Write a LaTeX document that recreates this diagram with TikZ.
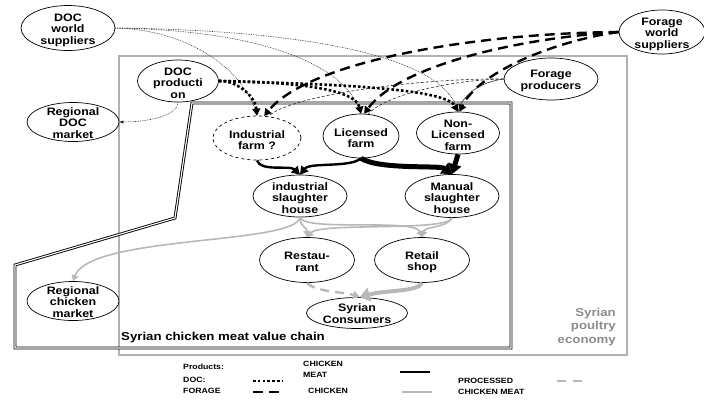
\documentclass[tikz,border=0pt]{standalone}
\usepackage{fontspec}
\setmainfont[FakeStretch=1.15, BoldFont={Liberation Sans Bold}]{Liberation Sans}
\newfontfamily\boldsans[FakeStretch=1.15]{Liberation Sans Bold}
\usetikzlibrary{shapes.geometric,arrows.meta}
\newcommand\nodetxt{\boldsans\fontsize{10.8}{11.5}\selectfont}
\newcommand\legtxt{\boldsans\fontsize{7.6}{11}\selectfont}
\begin{document}
\begin{tikzpicture}[x=1pt,y=-1pt,
  ell/.style={ellipse, draw, fill=white, inner sep=0pt, line width=0.7pt},
  txt/.style={align=center, font=\nodetxt, inner sep=0pt},
  leg/.style={align=left, font=\legtxt, inner sep=0pt, anchor=west},
  thindot/.style={draw=black!85, line width=0.55pt, dash pattern=on 0.8pt off 0.9pt},
  thinline/.style={draw=black!85, line width=0.55pt},
  thindash/.style={draw=black!85, line width=0.6pt, dash pattern=on 3pt off 2pt},
  docline/.style={line width=2.6pt, dash pattern=on 2.6pt off 2.2pt, -{Triangle[length=7pt,width=8pt]}},
  forline/.style={line width=2.4pt, dash pattern=on 10pt off 6pt, -{Triangle[length=7pt,width=8pt]}},
  meat/.style={line width=2.4pt, -{Triangle[length=8pt,width=9pt]}},
  meatthick/.style={line width=5pt, -{Triangle[length=10pt,width=13pt]}},
  chick/.style={draw=black!28, line width=1.6pt, -{Triangle[length=6pt,width=7pt]}},
  chickthick/.style={draw=black!28, line width=4pt, -{Triangle[length=10pt,width=14pt]}},
  proc/.style={draw=black!28, line width=2.4pt, dash pattern=on 9pt off 6pt, -{Triangle[length=7pt,width=8pt]}}
]
\useasboundingbox (0,0) rectangle (704,405);
% frames
\draw[draw=black!30, line width=2.5pt] (119,56) rectangle (627,355);
\draw[line width=0.9pt, double=white, double distance=1.1pt, line join=miter]
  (192,103) -- (511,103) -- (511,348) -- (15,348) -- (15,265) -- (175,218) -- cycle;
\node[font=\boldsans\fontsize{11.5}{13}\selectfont, anchor=west, inner sep=0pt] (vc) at (121,338) {Syrian chicken meat value chain};
\node[font=\boldsans\fontsize{11.5}{13.5}\selectfont, text=black!45, align=right, anchor=east, inner sep=0pt] (pe) at (616,327) {Syrian\\poultry\\economy};

% nodes
\node[ell, minimum width=94, minimum height=45] (dws) at (68,28) {};
\node[txt] (dwst) at ([yshift=-2]dws.center) {DOC\\world\\suppliers};
\node[ell, minimum width=86, minimum height=44] (fws) at (662,32) {};
\node[txt] (fwst) at ([yshift=-2]fws.center) {Forage\\world\\suppliers};
\node[ell, minimum width=81, minimum height=42] (dp) at (178,81) {};
\node[txt] (dpt) at ([yshift=-2]dp.center) {DOC\\producti\\on};
\node[ell, minimum width=92, minimum height=39] (rdm) at (73,122) {};
\node[txt] (rdmt) at ([yshift=-1]rdm.center) {Regional\\DOC\\market};
\node[ell, minimum width=94, minimum height=42] (fp) at (551,79) {};
\node[txt] (fpt) at ([yshift=-2]fp.center) {Forage\\producers};
\node[ell, dashed, minimum width=88, minimum height=44] (if) at (257,138) {};
\node[txt] (ift) at ([yshift=-2]if.center) {Industrial\\farm ?};
\node[ell, minimum width=76, minimum height=44] (lf) at (361,136) {};
\node[txt] (lft) at ([yshift=-2]lf.center) {Licensed\\farm};
\node[ell, minimum width=83, minimum height=42] (nlf) at (458,133) {};
\node[txt] (nlft) at ([yshift=-2]nlf.center) {Non-\\Licensed\\farm};
\node[ell, minimum width=94, minimum height=42] (is) at (300,196) {};
\node[txt] (ist) at ([yshift=-2]is.center) {industrial\\slaughter\\house};
\node[ell, minimum width=94, minimum height=43] (ms) at (452,196) {};
\node[txt] (mst) at ([yshift=-2]ms.center) {Manual\\slaughter\\house};
\node[ell, minimum width=95, minimum height=45] (rest) at (307,260) {};
\node[txt] (restt) at ([yshift=-2]rest.center) {Restau-\\rant};
\node[ell, minimum width=95, minimum height=45] (ret) at (422,260) {};
\node[txt] (rett) at ([yshift=-2]ret.center) {Retail\\shop};
\node[ell, minimum width=101, minimum height=31] (sc) at (357,313) {};
\node[txt] (sct) at ([yshift=-0.5]sc.center) {Syrian\\Consumers};
\node[ell, minimum width=92, minimum height=39] (rcm) at (73,301) {};
\node[txt] (rcmt) at ([yshift=-1]rcm.center) {Regional\\chicken\\market};

% DOC world suppliers
\draw[thindot] (dws.east) .. controls (190,30) and (245,70) .. (if.north);
\draw[thindot] (dws.east) .. controls (250,30) and (345,60) .. (lf.north);
\draw[thindot] (dws.east) .. controls (300,30) and (445,55) .. (nlf.north);
% DOC production
\draw[thindot, -{Triangle[length=4pt,width=3pt]}] (dp.south) .. controls (178,115) and (150,122) .. (rdm.east);
\draw[docline] (dp.east) .. controls (235,80) and (255,95) .. (if.north);
\draw[docline] (dp.east) .. controls (290,82) and (355,88) .. (lf.north);
\draw[docline] (dp.east) .. controls (330,84) and (445,88) .. (nlf.north);
% Forage world suppliers
\draw[forline] (fws.west) .. controls (480,33) and (310,60) .. (if.72);
\draw[forline] (fws.west) .. controls (520,38) and (400,65) .. (lf.82);
\draw[forline] (fws.west) .. controls (560,40) and (480,70) .. (nlf.86);
% Forage producers
\draw[thindash] (fp.west) .. controls (420,78) and (290,95) .. (if.62);
\draw[thindash] (fp.west) .. controls (450,80) and (385,95) .. (lf.72);
\draw[thinline] (fp.west) .. controls (480,82) and (462,95) .. (nlf.north);
% chicken meat
\draw[meat] (if.south) .. controls (260,172) and (290,165) .. (is.north);
\draw[meat] (lf.south) .. controls (350,168) and (310,162) .. (is.north);
\draw[meatthick] (lf.south) .. controls (380,170) and (440,165) .. (ms.north);
\draw[meatthick] (nlf.south) -- (ms.north);
% chicken
\draw[chick] (is.south) .. controls (300,228) and (307,226) .. (rest.north);
\draw[chick] (is.south) .. controls (305,232) and (415,218) .. (ret.north);
\draw[chick] (ms.south) .. controls (447,232) and (320,222) .. (rest.north);
\draw[chick] (ms.south) .. controls (447,228) and (425,226) .. (ret.north);
\draw[chick] (is.south) .. controls (295,245) and (90,235) .. (rcm.north);
% processed
\draw[proc] (rest.south) .. controls (315,292) and (345,292) .. (sc.80);
\draw[chickthick] (ret.south) .. controls (418,292) and (385,290) .. (sc.80);

% legend
\node[leg] (lp) at (183,367) {Products:};
\node[leg] (ldoc) at (183,380) {DOC:};
\node[leg] (lfor) at (183,391) {FORAGE};
\coordinate (ld1) at (253,381); \coordinate (ld2) at (283,381);
\draw[line width=2.6pt, dash pattern=on 2.6pt off 2.2pt] (ld1) -- (ld2);
\coordinate (lf1) at (253,392); \coordinate (lf2) at (283,392);
\draw[line width=2.4pt, dash pattern=on 10pt off 6pt] (lf1) -- (lf2);
\node[leg] (lcm) at (303,369) {CHICKEN\\MEAT};
\node[leg] (lch) at (308,391) {CHICKEN};
\coordinate (lm1) at (400,372); \coordinate (lm2) at (430,372);
\draw[line width=2.5pt] (lm1) -- (lm2);
\coordinate (lc1) at (402,392); \coordinate (lc2) at (432,392);
\draw[draw=black!28, line width=2pt] (lc1) -- (lc2);
\node[leg] (lpcm) at (458,386) {PROCESSED\\CHICKEN MEAT};
\coordinate (lpd1) at (557,381); \coordinate (lpd2) at (588,381);
\draw[draw=black!28, line width=2pt, dash pattern=on 9pt off 7pt] (lpd1) -- (lpd2);
\end{tikzpicture}
\end{document}
